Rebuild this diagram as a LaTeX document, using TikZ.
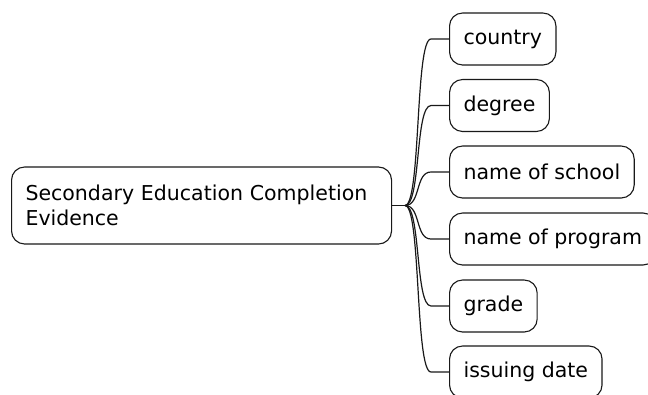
\documentclass[tikz,border=0pt]{standalone}
\usepackage{fontspec}
\setmainfont{DejaVu Sans}

\begin{document}
\begin{tikzpicture}[x=1pt, y=-1pt, line width=1.1pt,
  topic/.style={draw=black!90, rounded corners=13pt, anchor=west, align=left,
    inner xsep=14pt, inner ysep=0pt, font=\fontsize{20.5}{25}\selectfont},
  leaf/.style={topic, minimum height=52pt},
  link/.style={draw=black!90, line width=1.2pt}]
\useasboundingbox (0,0) rectangle (648,394);

% root
\node[topic, minimum height=77pt, text width=352pt] (evidence) at (11,205.5)
  {Secondary Education Completion\\Evidence};

% children
\node[leaf] (country) at (449,39) {country};
\node[leaf] (degree) at (449,105.5) {degree};
\node[leaf] (school) at (449,172) {name of school};
\node[leaf] (program) at (449,239) {name of program};
\node[leaf] (grade) at (449,306) {grade};
\node[leaf] (issued) at (449,372) {issuing date};

% branches
\coordinate (fork) at (405,205.5);
\draw[link] (evidence.east) -- (fork);
\draw[link] (fork) .. controls +(16,0) and +(-16,0) .. (431,39) -- (country.west);
\draw[link] (fork) .. controls +(16,0) and +(-16,0) .. (431,105.5) -- (degree.west);
\draw[link] (fork) .. controls +(16,0) and +(-16,0) .. (431,172) -- (school.west);
\draw[link] (fork) .. controls +(16,0) and +(-16,0) .. (431,239) -- (program.west);
\draw[link] (fork) .. controls +(16,0) and +(-16,0) .. (431,306) -- (grade.west);
\draw[link] (fork) .. controls +(16,0) and +(-16,0) .. (431,372) -- (issued.west);
\end{tikzpicture}
\end{document}
